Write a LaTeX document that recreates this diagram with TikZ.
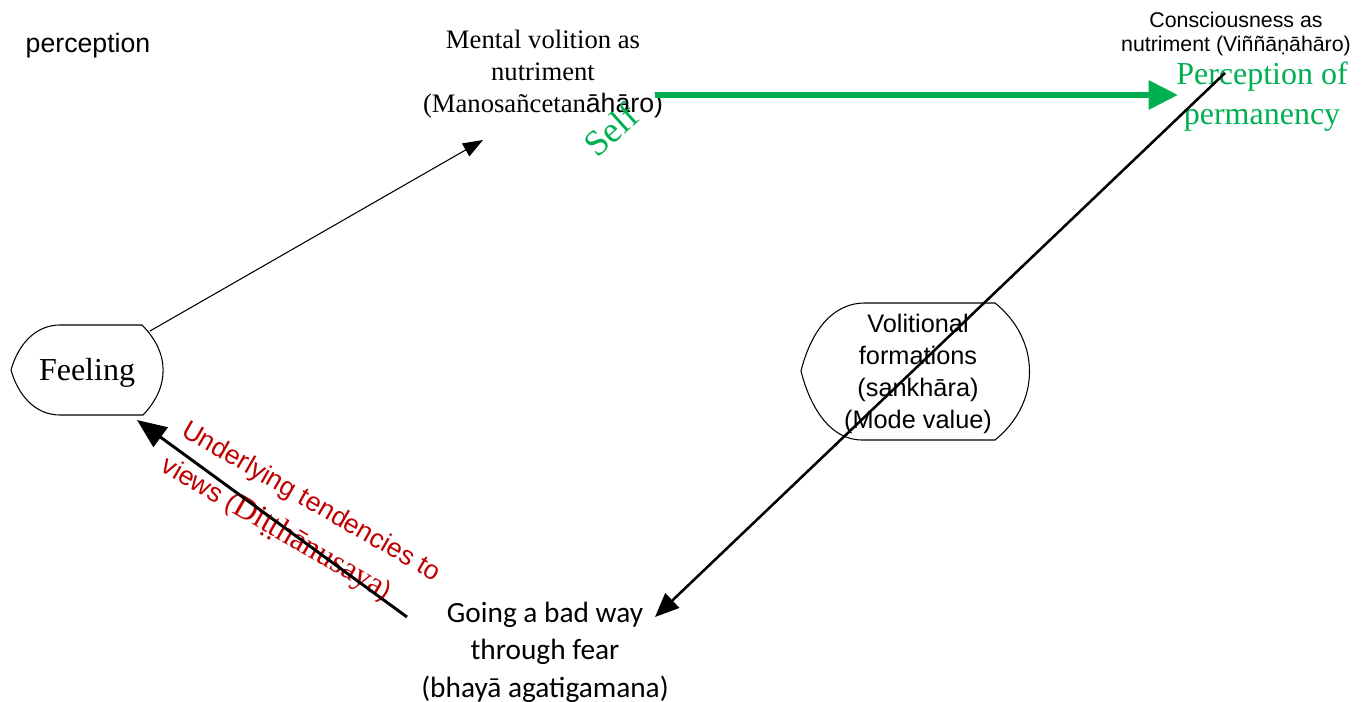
\documentclass[tikz,border=0pt]{standalone}
\usepackage{fontspec}
\setmainfont{Liberation Serif}
\newfontfamily\arialfont{Liberation Sans}
\newfontfamily\calibrifont{Carlito}
\usepackage{tikz}
\usetikzlibrary{positioning,arrows.meta}
\definecolor{selfgreen}{RGB}{0,176,80}
\definecolor{viewred}{RGB}{192,0,0}
\tikzset{
  lbl/.style={align=center, inner sep=0pt},
  sanslbl/.style={lbl, font=\arialfont\fontsize{19}{24}\selectfont},
  seriflbl/.style={lbl, font=\fontsize{20}{24}\selectfont},
  greenlbl/.style={lbl, text=selfgreen, font=\fontsize{24}{30}\selectfont},
  outline/.style={draw=black, line width=0.8pt},
}

\begin{document}
\begin{tikzpicture}[x=0.75pt,y=-0.75pt]
  \useasboundingbox (0,0) rectangle (1362,702);

  % outlines
  \draw[outline] (60,325) -- (142,325) .. controls (170,353) and (170,387) .. (143,415)
    -- (60,415) .. controls (35,415) and (18,395) .. (11,370)
    .. controls (18,345) and (35,325) .. (60,325);
  \draw[outline] (865,303) -- (995,303) .. controls (1041,340) and (1041,403) .. (995,440)
    -- (862,440) .. controls (830,440) and (810,407) .. (801,371)
    .. controls (810,335) and (830,303) .. (865,303);

  % texts
  \node[lbl, font=\arialfont\fontsize{20}{24}\selectfont] (percep) at (88,46) {perception};
  \node[seriflbl] (volition) at (543,74) {Mental volition as\\nutriment\\(Manosañcetan{\arialfont āhāro)}};
  \node[lbl, font=\arialfont\fontsize{16}{18}\selectfont] (conscious) at (1236,34) {Consciousness as\\nutriment (Viññāṇāhāro)};
  \node[greenlbl] (perm) at (1262,97) {Perception of\\permanency};
  \node[greenlbl, font=\fontsize{27}{30}\selectfont, rotate=42] (self) at (611,130) {Self};
  \node[lbl, font=\fontsize{24}{28}\selectfont] (feeling) at (87,373) {Feeling};
  \node[sanslbl] (formations) at (918,374) {Volitional\\formations\\(sankhāra)\\(Mode value)};
  \node[lbl, font=\calibrifont\fontsize{22}{28}\selectfont] (badway) at (545,652) {Going a bad way\\through fear\\(bhayā agatigamana)};
  \node[lbl, align=left, rotate=-30, text=viewred, font=\arialfont\fontsize{20}{31}\selectfont] (tendency) at (300,521)
    {Underlying tendencies to\\views ({\rmfamily\fontsize{24}{31}\selectfont Diṭṭhānusaya})};

  % connector ends
  \coordinate (feel-ne) at (150,331);
  \coordinate (feel-se) at (137,420);
  \coordinate (vol-in) at (483,140);
  \coordinate (vol-out) at (655,95);
  \coordinate (perm-in) at (1178,95);
  \coordinate (cons-out) at (1225,73);
  \coordinate (bad-in) at (655,617);
  \coordinate (bad-out) at (407,617);

  % connectors
  \draw[line width=0.8pt, -{Triangle[length=15pt,width=11pt]}] (feel-ne) -- (vol-in);
  \draw[selfgreen, line width=4.5pt, -{Triangle[length=22pt,width=21pt]}] (vol-out) -- (perm-in);
  \draw[line width=1.9pt, -{Triangle[length=18pt,width=15pt]}] (cons-out) -- (bad-in);
  \draw[line width=2.2pt, -{Triangle[length=22pt,width=18pt]}] (bad-out) -- (feel-se);
\end{tikzpicture}
\end{document}
